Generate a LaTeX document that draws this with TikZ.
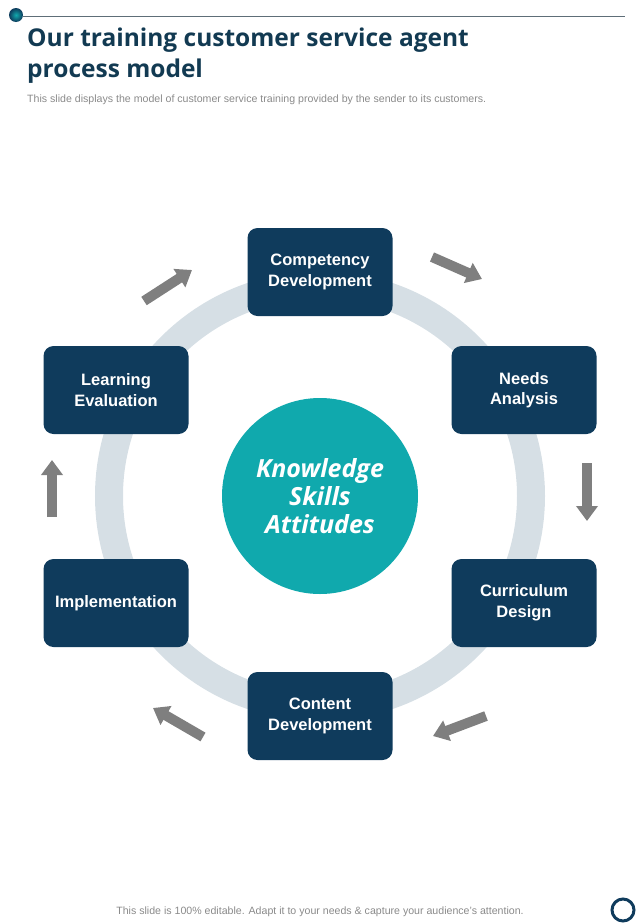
\documentclass[tikz,border=0pt]{standalone}
\usepackage{fontspec}
\setmainfont{Liberation Sans}
\newfontfamily\titlefont{Open Sans}
\usetikzlibrary{arrows.meta, positioning}
\definecolor{navy}{HTML}{0F3B5C}
\definecolor{titleblue}{HTML}{123A52}
\definecolor{hubteal}{HTML}{10A9AD}
\definecolor{ringgray}{HTML}{D6DFE5}
\definecolor{flowgray}{HTML}{7F7F7F}
\definecolor{notegray}{HTML}{8A8A8A}
\definecolor{rulegray}{HTML}{5E6E78}

\begin{document}
\begin{tikzpicture}[x=1pt, y=-1pt, >=Latex,
  stage/.style={fill=navy, rounded corners=10pt, minimum width=145pt, minimum height=88pt, align=center, text=white, font=\bfseries\fontsize{16.5}{20.5}\selectfont},
  hub/.style={circle, fill=hubteal, minimum size=196pt, align=center, text=white, font=\titlefont\bfseries\itshape\fontsize{25}{28}\selectfont},
  flow/.style={line width=10pt, draw=flowgray, -{Triangle[length=15pt, width=21pt]}},
  heading/.style={anchor=base west, inner sep=0pt, text=titleblue, font=\titlefont\bfseries\fontsize{24.5}{30}\selectfont},
  note/.style={inner sep=0pt, text=notegray, font=\fontsize{10.6}{12}\selectfont}]
  \useasboundingbox (0,0) rectangle (640,924);

  % header
  \shade[inner color=hubteal, outer color=navy] (16,15) circle[radius=7];
  \draw[rulegray, line width=1pt] (23,16) -- (625,16);
  \node[heading] (title1) at (27,46) {Our training customer service agent};
  \node[heading] (title2) at (27,77) {process model};
  \node[note, anchor=base west] (subtitle) at (27,102) {This slide displays the model of customer service training provided by the sender to its customers.};

  % ring and centre
  \coordinate (mid) at (320,496);
  \draw[ringgray, line width=28pt] (mid) circle[radius=211];
  \node[hub] (hub) at (mid) {Knowledge\\Skills\\Attitudes};

  % stages
  \node[stage] (compet) at (320,272) {Competency\\Development};
  \node[stage] (needs) at (524,390) {Needs\\Analysis};
  \node[stage] (curric) at (524,603) {Curriculum\\Design};
  \node[stage] (content) at (320,716) {Content\\Development};
  \node[stage] (implem) at (116,603) {Implementation};
  \node[stage] (learn) at (116,390) {Learning\\Evaluation};

  % cycle arrows
  \coordinate (t1) at (432,257); \coordinate (h1) at (482,279);
  \coordinate (t2) at (587,463); \coordinate (h2) at (587,521);
  \coordinate (t3) at (486,716); \coordinate (h3) at (433,736);
  \coordinate (t4) at (203,737); \coordinate (h4) at (153,708);
  \coordinate (t5) at (52,517);  \coordinate (h5) at (52,460);
  \coordinate (t6) at (144,301); \coordinate (h6) at (192,270);
  \foreach \i in {1,...,6}
    \draw[flow] (t\i) -- (h\i);

  % footer
  \node[note, anchor=base] (footer) at (320,914) {This slide is 100\% editable. Adapt it to your needs \& capture your audience’s attention.};
  \draw[navy, line width=3pt] (623,910) circle[radius=11];
\end{tikzpicture}
\end{document}
